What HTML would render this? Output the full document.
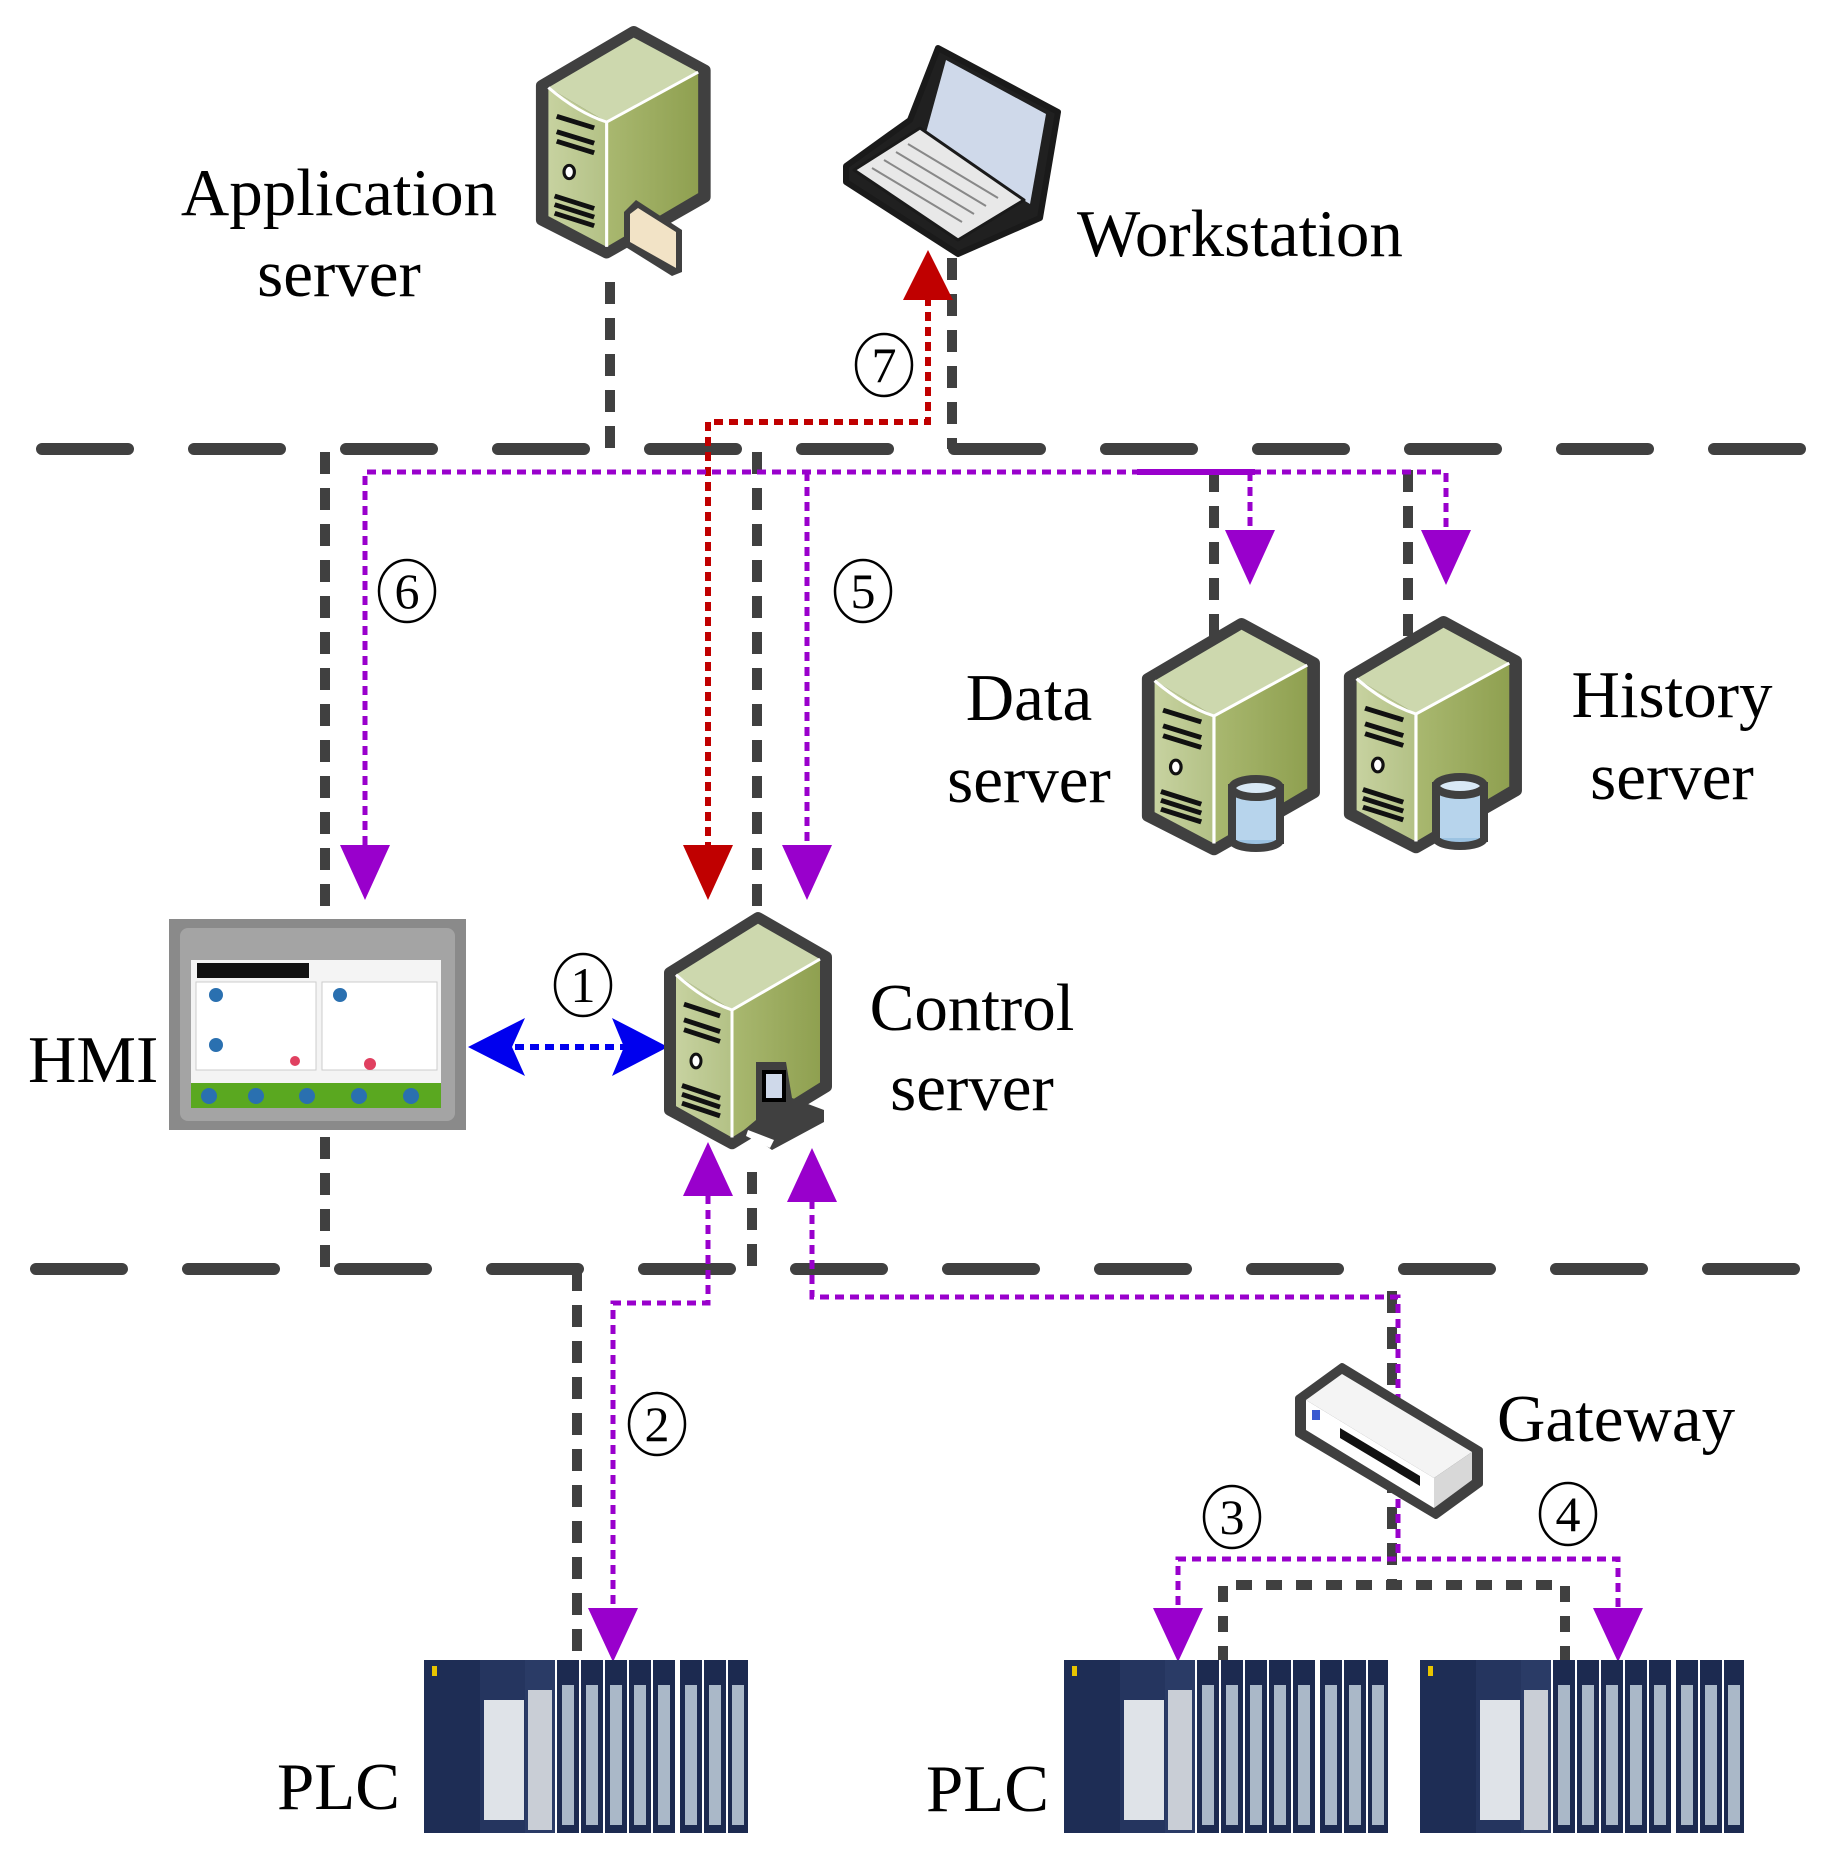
<!DOCTYPE html>
<html><head><meta charset="utf-8"><style>
html,body{margin:0;padding:0;background:#fff;}
svg{display:block}
text{font-family:"Liberation Serif",serif;fill:#000}
</style></head><body>
<svg width="1839" height="1866" viewBox="0 0 1839 1866" xmlns="http://www.w3.org/2000/svg">
<defs>
<linearGradient id="side" x1="0" x2="1"><stop offset="0" stop-color="#a9b870"/><stop offset="1" stop-color="#8fa050"/></linearGradient>
<linearGradient id="front" x1="0" x2="1"><stop offset="0" stop-color="#c7d2a0"/><stop offset="1" stop-color="#b3c185"/></linearGradient>
<g id="srv">
  <polygon points="4,60 92,4 160,44 160,176 66,234 4,200" fill="#404040" stroke="#404040" stroke-width="12" stroke-linejoin="round"/>
  <polygon points="10,62 92,10 154,46 66,98" fill="#cdd8ae"/>
  <polygon points="10,62 66,98 66,228 10,196" fill="url(#front)"/>
  <polygon points="66,98 154,46 154,172 66,228" fill="url(#side)"/>
  <path d="M10,62 Q38,88 66,98 L154,46" fill="none" stroke="#fff" stroke-width="3"/>
  <line x1="66" y1="98" x2="66" y2="228" stroke="#fff" stroke-width="3"/>
  <path d="M18,92 L54,104 M18,108 L54,120 M18,118 L54,130" stroke="#111" stroke-width="5" fill="none"/>
  <ellipse cx="30" cy="150" rx="5" ry="7" fill="#fff" stroke="#111" stroke-width="3"/>
  <path d="M16,175 L54,188 M16,184 L54,197 M16,193 L54,206" stroke="#111" stroke-width="5"/>
</g>
<g id="db">
  <rect x="0" y="10" width="48" height="52" fill="#9cc3e2" stroke="#404040" stroke-width="8"/>
  <ellipse cx="24" cy="62" rx="24" ry="8" fill="#9cc3e2" stroke="#404040" stroke-width="8"/>
  <rect x="4" y="12" width="40" height="50" fill="#b7d4ec"/>
  <ellipse cx="24" cy="10" rx="24" ry="9" fill="#d9e9f6" stroke="#404040" stroke-width="8"/>
</g>
<g id="plc">
  <rect x="0" y="0" width="324" height="173" fill="#fff"/>
  <rect x="0" y="0" width="56" height="173" fill="#1e2d55"/>
  <rect x="8" y="6" width="5" height="10" fill="#e8c400"/>
  <rect x="56" y="0" width="45" height="173" fill="#25355f"/>
  <rect x="60" y="40" width="40" height="120" fill="#dfe3e8"/>
  <rect x="101" y="0" width="30" height="173" fill="#2a3b66"/>
  <rect x="104" y="30" width="24" height="140" fill="#c9ced6"/>
  <g fill="#1c2a50">
    <rect x="133" y="0" width="22" height="173"/><rect x="157" y="0" width="22" height="173"/>
    <rect x="181" y="0" width="22" height="173"/><rect x="205" y="0" width="22" height="173"/>
    <rect x="229" y="0" width="22" height="173"/><rect x="256" y="0" width="22" height="173"/>
    <rect x="280" y="0" width="22" height="173"/><rect x="304" y="0" width="20" height="173"/>
  </g>
  <g fill="#aab8c8">
    <rect x="138" y="25" width="12" height="140"/><rect x="162" y="25" width="12" height="140"/>
    <rect x="186" y="25" width="12" height="140"/><rect x="210" y="25" width="12" height="140"/>
    <rect x="234" y="25" width="12" height="140"/><rect x="261" y="25" width="12" height="140"/>
    <rect x="285" y="25" width="12" height="140"/><rect x="308" y="25" width="12" height="140"/>
  </g>
</g>
</defs>

<!-- bus lines -->
<line x1="42" y1="449" x2="1805" y2="449" stroke="#404040" stroke-width="12" stroke-linecap="round" stroke-dasharray="86,66"/>
<line x1="36" y1="1269" x2="1805" y2="1269" stroke="#404040" stroke-width="12" stroke-linecap="round" stroke-dasharray="86,66"/>

<!-- gray vertical connectors -->
<g stroke="#404040" stroke-width="10" fill="none" stroke-dasharray="22,14">
  <path d="M610,282 V449"/>
  <path d="M952,258 V449"/>
  <path d="M325,452 V916"/>
  <path d="M325,1137 V1269"/>
  <path d="M757,452 V910"/>
  <path d="M752,1172 V1269"/>
  <path d="M1214,470 V643"/>
  <path d="M1408,470 V640"/>
  <path d="M577,1269 V1662"/>
  <path d="M1392,1291 V1583"/>
</g>
<path d="M1223,1662 V1585 H1565 V1662" stroke="#404040" stroke-width="10" fill="none" stroke-dasharray="16,14"/>

<!-- red path -->
<path d="M928,282 V422 H708 V860" stroke="#c00000" stroke-width="6" fill="none" stroke-dasharray="9,6"/>
<polygon points="928,250 903,300 953,300" fill="#c00000"/>
<polygon points="708,900 683,845 733,845" fill="#c00000"/>

<!-- purple paths -->
<g stroke="#9900cc" stroke-width="5" fill="none" stroke-dasharray="9,6">
  <path d="M365,860 V472 H1446 V540"/>
  <path d="M807,472 V860"/>
  <path d="M1250,472 V540"/>
  <path d="M708,1180 V1303 H613 V1620"/>
  <path d="M812,1185 V1297 H1398 V1559"/>
  <path d="M1178,1620 V1559 H1618 V1620"/>
</g>
<line x1="1137" y1="472" x2="1255" y2="472" stroke="#9900cc" stroke-width="6"/>
<g fill="#9900cc">
  <polygon points="365,900 340,845 390,845"/>
  <polygon points="807,900 782,845 832,845"/>
  <polygon points="1250,585 1225,530 1275,530"/>
  <polygon points="1446,585 1421,530 1471,530"/>
  <polygon points="708,1142 683,1196 733,1196"/>
  <polygon points="812,1148 787,1202 837,1202"/>
  <polygon points="613,1662 588,1608 638,1608"/>
  <polygon points="1178,1662 1153,1608 1203,1608"/>
  <polygon points="1618,1662 1593,1608 1643,1608"/>
</g>

<!-- blue arrow -->
<line x1="500" y1="1047" x2="630" y2="1047" stroke="#0000ee" stroke-width="6" stroke-dasharray="9,6"/>
<polygon points="468,1047 525,1018 512,1047 525,1076" fill="#0000ee"/>
<polygon points="668,1047 612,1018 624,1047 612,1076" fill="#0000ee"/>

<!-- application server -->
<use href="#srv" transform="translate(538,28) scale(1.04,0.96)"/>
<polygon points="624,212 636,200 682,230 682,272 672,276 624,246" fill="#404040"/>
<polygon points="630,214 638,208 676,232 676,268 630,242" fill="#f2e3c6"/>

<!-- workstation laptop -->
<g stroke="#1a1a1a" stroke-linejoin="round">
  <polygon points="938,48 1058,112 1040,218 958,254 846,182 846,166 910,120" fill="#202020" stroke-width="6"/>
  <polygon points="946,60 1046,114 1030,204 924,140" fill="#cfd9ea" stroke="none"/>
  <polygon points="854,170 920,128 1024,200 958,240" fill="#e8e8e8" stroke-width="3"/>
</g>
<g stroke="#888" stroke-width="2">
  <line x1="872" y1="168" x2="962" y2="222"/><line x1="884" y1="160" x2="974" y2="214"/>
  <line x1="896" y1="152" x2="986" y2="206"/><line x1="908" y1="144" x2="998" y2="198"/>
</g>

<!-- data & history servers -->
<use href="#srv" transform="translate(1144,620) scale(1.06,0.98)"/>
<use href="#db" transform="translate(1232,778)"/>
<use href="#srv" transform="translate(1346,618) scale(1.06,0.98)"/>
<use href="#db" transform="translate(1436,776)"/>

<!-- control server -->
<use href="#srv" transform="translate(666,914) scale(1.0,0.98)"/>
<polygon points="756,1062 786,1062 792,1098 824,1110 824,1122 772,1150 744,1130 756,1120" fill="#404040"/>
<rect x="764" y="1072" width="20" height="28" fill="#cfd9ea" stroke="#000" stroke-width="4"/>
<polygon points="748,1130 774,1140 770,1148 746,1136" fill="#fff"/>

<!-- HMI -->
<rect x="169" y="919" width="297" height="211" fill="#8a8a8a"/>
<rect x="180" y="928" width="275" height="193" fill="#a4a4a4" rx="8"/>
<rect x="191" y="960" width="250" height="140" fill="#f4f4f4"/>
<rect x="197" y="963" width="112" height="15" fill="#111"/>
<rect x="196" y="982" width="120" height="88" fill="#fff" stroke="#ccc"/>
<rect x="322" y="982" width="115" height="88" fill="#fff" stroke="#ccc"/>
<circle cx="216" cy="995" r="7" fill="#2a70b0"/><circle cx="216" cy="1045" r="7" fill="#2a70b0"/>
<circle cx="340" cy="995" r="7" fill="#2a70b0"/>
<circle cx="295" cy="1061" r="5" fill="#e04060"/><circle cx="370" cy="1064" r="6" fill="#e04060"/>
<rect x="191" y="1083" width="250" height="25" fill="#5aa820"/>
<g fill="#2a70b0"><circle cx="209" cy="1096" r="8"/><circle cx="256" cy="1096" r="8"/><circle cx="307" cy="1096" r="8"/><circle cx="359" cy="1096" r="8"/><circle cx="411" cy="1096" r="8"/></g>

<!-- gateway -->
<polygon points="1298,1398 1342,1366 1480,1450 1480,1484 1436,1516 1298,1434" fill="#404040" stroke="#404040" stroke-width="6" stroke-linejoin="round"/>
<polygon points="1306,1400 1342,1374 1472,1452 1434,1478" fill="#f4f4f4"/>
<polygon points="1306,1400 1434,1478 1434,1508 1306,1430" fill="#fff"/>
<polygon points="1434,1478 1472,1452 1472,1480 1434,1508" fill="#d8d8d8"/>
<rect x="1312" y="1410" width="8" height="10" fill="#3a5ad0"/>
<polygon points="1340,1428 1420,1476 1420,1486 1340,1438" fill="#111"/>

<!-- PLCs -->
<use href="#plc" transform="translate(424,1660)"/>
<use href="#plc" transform="translate(1064,1660)"/>
<use href="#plc" transform="translate(1420,1660)"/>

<!-- labels -->
<g font-size="67">
<text x="339" y="215" text-anchor="middle">Application</text>
<text x="339" y="296" text-anchor="middle">server</text>
<text x="1077" y="256">Workstation</text>
<text x="1029" y="720" text-anchor="middle">Data</text>
<text x="1029" y="802" text-anchor="middle">server</text>
<text x="1672" y="717" text-anchor="middle">History</text>
<text x="1672" y="799" text-anchor="middle">server</text>
<text x="28" y="1082">HMI</text>
<text x="972" y="1030" text-anchor="middle">Control</text>
<text x="972" y="1110" text-anchor="middle">server</text>
<text x="1497" y="1441">Gateway</text>
<text x="277" y="1809">PLC</text>
<text x="926" y="1811">PLC</text>
</g>
<g fill="none" stroke="#000" stroke-width="2.5">
<ellipse cx="884" cy="365" rx="28" ry="31"/>
<ellipse cx="407" cy="591" rx="28" ry="31"/>
<ellipse cx="863" cy="591" rx="28" ry="31"/>
<ellipse cx="583" cy="985" rx="28" ry="31"/>
<ellipse cx="657" cy="1424" rx="28" ry="31"/>
<ellipse cx="1232" cy="1517" rx="28" ry="31"/>
<ellipse cx="1568" cy="1514" rx="28" ry="31"/>
</g>
<g font-size="50" text-anchor="middle">
<text x="884" y="382">7</text>
<text x="407" y="608">6</text>
<text x="863" y="608">5</text>
<text x="583" y="1002">1</text>
<text x="657" y="1441">2</text>
<text x="1232" y="1534">3</text>
<text x="1568" y="1531">4</text>
</g>
</svg>
</body></html>
